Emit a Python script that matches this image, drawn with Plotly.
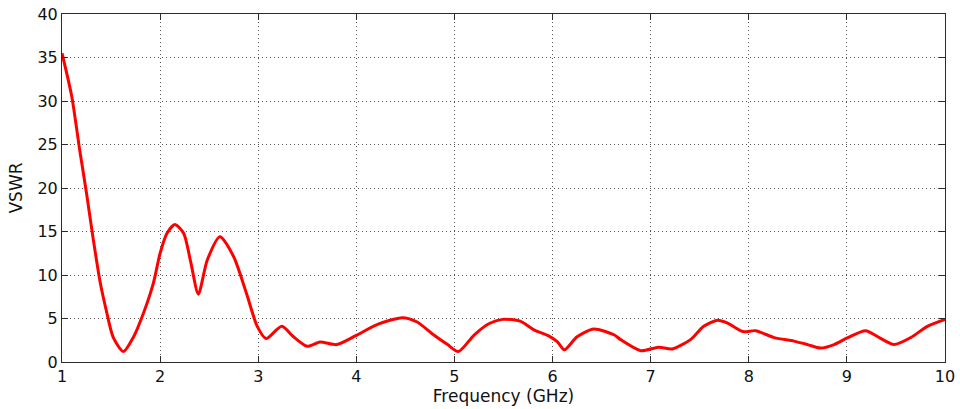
import plotly.graph_objects as go

# Measured VSWR versus frequency
freq_ghz = [1.00, 1.10, 1.18, 1.25, 1.32, 1.39, 1.45, 1.52, 1.625, 1.73, 1.83, 1.93,
            2.00, 2.07, 2.15, 2.24, 2.31, 2.39, 2.48, 2.61, 2.75, 2.88, 2.99, 3.08,
            3.24, 3.36, 3.50, 3.63, 3.80, 3.99, 4.21, 4.47, 4.62, 4.79, 4.93, 5.04,
            5.20, 5.35, 5.49, 5.67, 5.81, 5.96, 6.05, 6.12, 6.25, 6.42, 6.63, 6.69,
            6.90, 7.08, 7.22, 7.41, 7.54, 7.68, 7.78, 7.94, 8.07, 8.26, 8.46, 8.60,
            8.73, 8.87, 9.01, 9.19, 9.33, 9.48, 9.65, 9.82, 10.00]
vswr = [35.5, 30.5, 24.4, 19.4, 14.0, 9.1, 6.0, 2.9, 1.2, 2.9, 5.6, 9.0,
        12.5, 14.8, 15.8, 14.8, 11.6, 7.8, 11.7, 14.4, 12.1, 7.9, 4.1, 2.7,
        4.1, 2.9, 1.8, 2.3, 2.0, 3.0, 4.3, 5.1, 4.6, 3.1, 2.0, 1.2,
        3.1, 4.4, 4.9, 4.7, 3.7, 3.0, 2.3, 1.4, 2.9, 3.8, 3.1, 2.6,
        1.3, 1.7, 1.5, 2.6, 4.1, 4.8, 4.5, 3.5, 3.6, 2.8, 2.4, 2.0,
        1.6, 2.0, 2.8, 3.6, 2.8, 2.0, 2.8, 4.1, 4.9]

x_ticks = list(range(1, 11))
y_ticks = list(range(0, 41, 5))

TICK_FONT = dict(family="DejaVu Sans, Liberation Sans, Arial, sans-serif", size=16, color="#111111")
TITLE_FONT = dict(family="DejaVu Sans, Liberation Sans, Arial, sans-serif", size=17, color="#111111")

fig = go.Figure(go.Scatter(
    x=freq_ghz, y=vswr, mode="lines",
    line=dict(color="#ff0000", width=3, shape="spline", smoothing=0.7),
    showlegend=False,
))

axis_common = dict(
    showline=True, linecolor="#2b2b2b", linewidth=1, mirror="ticks",
    ticks="inside", ticklen=6, tickcolor="#2b2b2b",
    showgrid=True, gridcolor="#555555", griddash="1px,3px", gridwidth=1,
    zeroline=False, automargin=False,
    tickfont=TICK_FONT,
)

fig.update_xaxes(
    range=[1, 10], tickvals=x_ticks,
    title=dict(text="Frequency (GHz)", standoff=2, font=TITLE_FONT),
    **axis_common,
)
fig.update_yaxes(
    range=[0, 40], tickvals=y_ticks,
    title=dict(text="VSWR", standoff=10, font=TITLE_FONT),
    **axis_common,
)

fig.update_layout(
    width=960, height=409,
    margin=dict(l=62, r=15, t=14, b=47),
    plot_bgcolor="white", paper_bgcolor="white",
)

fig.write_html("out.html")
